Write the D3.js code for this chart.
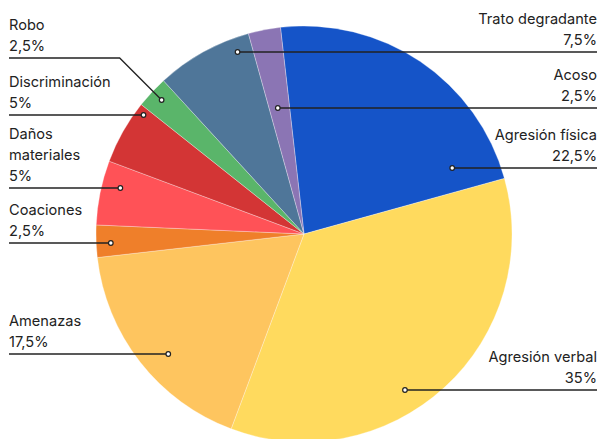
<!DOCTYPE html>
<html>
<head>
<meta charset="utf-8">
<script src="https://cdn.jsdelivr.net/npm/d3@7"></script>
<style>
  body { margin: 0; background: #fff; }
  text { font-family: "Inter", "Lato", sans-serif; font-size: 14.6px; fill: #222; }
</style>
</head>
<body>
<div class="chart"></div>
<script>
var categories = ["Agresión física", "Agresión verbal", "Amenazas", "Coaciones", "Daños materiales",
  "Discriminación", "Robo", "Trato degradante", "Acoso"];
var values = [22.5, 35, 17.5, 2.5, 5, 5, 2.5, 7.5, 2.5];
var valueLabels = ["22,5%", "35%", "17,5%", "2,5%", "5%", "5%", "2,5%", "7,5%", "2,5%"];
var colors = ["#1554c8", "#ffda5e", "#fec55f", "#ef7f2a", "#ff5257", "#d33535", "#5ab56a", "#4f7699", "#8b75b4"];

// label layout: side, y of the leader line, name lines, where the dot sits in the slice
var labelSide = ["right", "right", "left", "left", "left", "left", "left", "right", "right"];
var labelLineY = [168, 390, 354, 243, 188, 115, 58, 52, 108];
var nameLines = [["Agresión física"], ["Agresión verbal"], ["Amenazas"], ["Coaciones"], ["Daños", "materiales"],
  ["Discriminación"], ["Robo"], ["Trato degradante"], ["Acoso"]];
var dotT = [0.895, 0.575, 0.446, 0.39, 0.64, 0.89, 0.53, 0.83, 0.42];
var dotR = [0.78, 0.89, 0.87, 0.93, 0.91, 0.96, 0.94, 0.93, 0.62];

var svgWidth = 603, svgHeight = 439;
var cx = 304, cy = 234, radius = 208;

var svg = d3.select(".chart").append("svg")
  .attr("width", svgWidth)
  .attr("height", svgHeight);

var g = svg.append("g").attr("transform", `translate(${cx}, ${cy})`);

var offset = -6.5 * Math.PI / 180;
var pie = d3.pie().sort(null).value(d => d)
  .startAngle(offset).endAngle(offset + 2 * Math.PI);
var arcs = pie(values);
var arc = d3.arc().innerRadius(0).outerRadius(radius);

g.selectAll("path.slice")
  .data(arcs)
  .enter().append("path")
  .attr("class", "slice")
  .attr("d", arc)
  .attr("fill", (d, i) => colors[i])
  .attr("stroke", "#fff")
  .attr("stroke-width", 0.5)
  .attr("stroke-opacity", 0.6);

// leader lines + labels
arcs.forEach(function(d, i) {
  var a = d.startAngle + dotT[i] * (d.endAngle - d.startAngle);
  var r = dotR[i] * radius;
  var dx = cx + r * Math.sin(a);
  var dy = cy - r * Math.cos(a);
  var ly = labelLineY[i];
  var right = labelSide[i] === "right";
  var endX = right ? 597 : 9;
  var bent = Math.abs(dy - ly) > 2;

  var pts = bent ? [[endX, ly], [dx - (dy - ly), ly], [dx, dy]] : [[endX, ly], [dx, ly]];
  svg.append("path")
    .attr("d", d3.line()(pts))
    .attr("fill", "none")
    .attr("stroke", "#222")
    .attr("stroke-width", 1.3);
  svg.append("circle")
    .attr("cx", dx).attr("cy", bent ? dy : ly)
    .attr("r", 2.3)
    .attr("fill", "#fff")
    .attr("stroke", "#222")
    .attr("stroke-width", 1.2);

  var lines = nameLines[i].concat([valueLabels[i]]);
  var n = lines.length;
  lines.forEach(function(t, j) {
    svg.append("text")
      .attr("x", right ? 597 : 9)
      .attr("y", ly - 7 - (n - 1 - j) * 21)
      .attr("text-anchor", right ? "end" : "start")
      .text(t);
  });
});
</script>
</body>
</html>
